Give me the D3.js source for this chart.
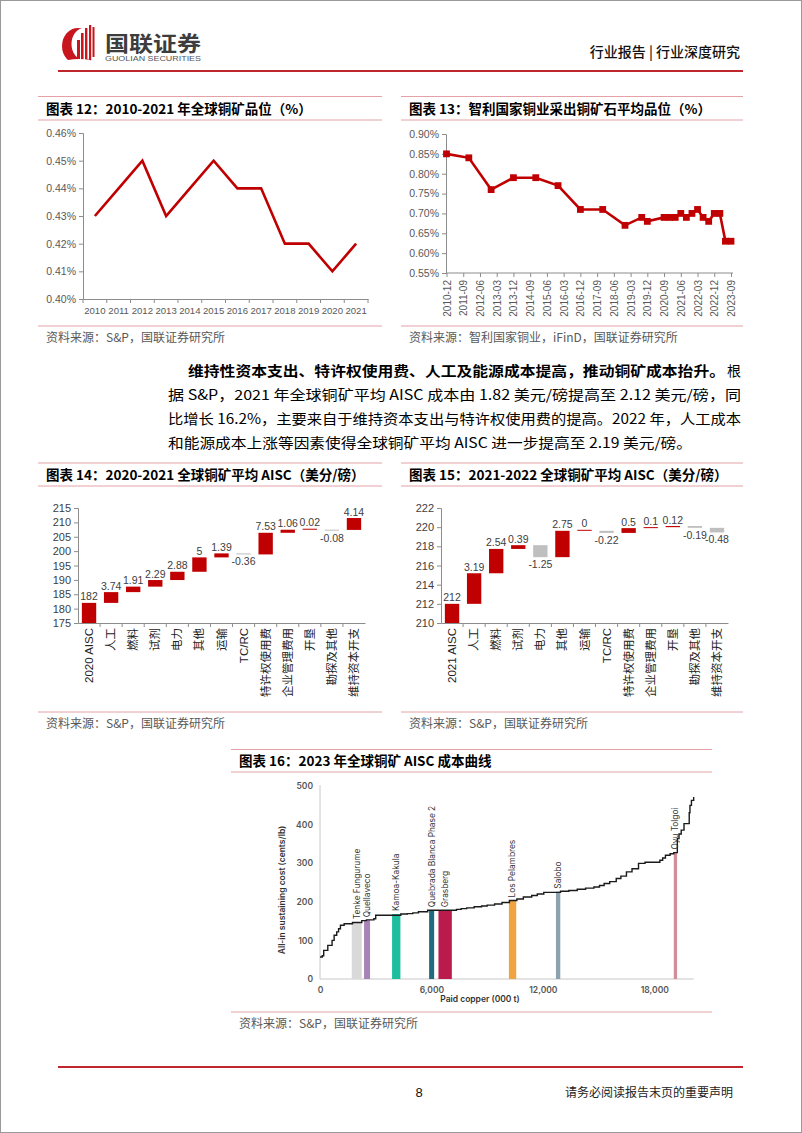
<!DOCTYPE html>
<html><head><meta charset="utf-8">
<script src="https://cdn.jsdelivr.net/npm/d3@7"></script>
<style>
body{margin:0;background:#fff;}
svg{display:block;}
</style></head><body>
<svg id="c" width="802" height="1133"></svg>
<script>
// ---------------- DATA ----------------
const years12 = ["2010","2011","2012","2013","2014","2015","2016","2017","2018","2019","2020","2021"];
const grade12 = [0.43,0.44,0.45,0.43,0.44,0.45,0.44,0.44,0.42,0.42,0.41,0.42];
const yTicks12 = [0.40,0.41,0.42,0.43,0.44,0.45,0.46];

const dates13 = ["2010-12","2011-12","2012-12","2013-12","2014-12","2015-12","2016-12","2017-12","2018-12",
  "2019-09","2019-12","2020-09","2020-12","2021-03","2021-06","2021-09","2021-12","2022-03","2022-06","2022-09",
  "2022-12","2023-03","2023-06","2023-09"];
const grade13 = [0.85,0.84,0.76,0.79,0.79,0.77,0.71,0.71,0.67,
  0.69,0.68,0.69,0.69,0.69,0.70,0.69,0.70,0.71,0.69,0.68,
  0.70,0.70,0.63,0.63];
const xTicks13 = ["2010-12","2011-09","2012-06","2013-03","2013-12","2014-09","2015-06","2016-03","2016-12",
  "2017-09","2018-06","2019-03","2019-12","2020-09","2021-06","2022-03","2022-12","2023-09"];
const yTicks13 = [0.55,0.60,0.65,0.70,0.75,0.80,0.85,0.90];

const cats14 = ["2020 AISC","人工","燃料","试剂","电力","其他","运输","TC/RC","特许权使用费","企业管理费用","开垦","勘探及其他","维持资本开支"];
const vals14 = [182,3.74,1.91,2.29,2.88,5,1.39,-0.36,7.53,1.06,0.02,-0.08,4.14];
const yTicks14 = [175,180,185,190,195,200,205,210,215];

const cats15 = ["2021 AISC","人工","燃料","试剂","电力","其他","运输","TC/RC","特许权使用费","企业管理费用","开垦","勘探及其他","维持资本开支"];
const vals15 = [212,3.19,2.54,0.39,-1.25,2.75,0,-0.22,0.5,0.1,0.12,-0.19,-0.48];
const yTicks15 = [210,212,214,216,218,220,222];

const curveX16 = [0,120,200,420,650,760,900,1000,1100,1300,1750,2250,2500,2900,3000,4350,4700,5000,5300,5800,
  7350,7600,7900,8300,8700,9000,9400,9800,10200,10600,10950,11400,11700,12050,12950,13400,13850,14300,14750,
  15050,15300,15600,15950,16200,16500,16800,17150,17500,18300,18450,18600,18850,19050,19240,19330,19450,19600,
  19880,19920,20000,20120];
const curveY16 = [57,60,74,87,100,113,122,130,139,143,146,151,153,156,165,168,169,171,174,178,
  180,182,184,187,189,191,194,198,203,207,212,216,220,224,227,229,232,235,238,
  242,247,252,260,266,277,285,299,302,307,313,320,324,327,363,375,385,402,
  430,449,462,471];
const mines16 = ["Tenke Fungurume","Quellaveco","Kamoa-Kakula","Quebrada Blanca Phase 2","Grasberg","Los Pelambres","Salobo","Oyu Tolgoi"];
const mineStart16 = [1709,2372,3881,5876,6378,10172,12705,19049];
const mineEnd16 = [2248,2695,4329,6146,7097,10566,12938,19228];
const mineCost16 = [147,152,168,178,178,203,226,327];
const xTicks16 = [0,6000,12000,18000];
const yTicks16 = [0,100,200,300,400,500];

// ---------------- STYLE ----------------
const RED = "#C00000", GREY = "#BFBFBF", PINK = "#E4A2A8", AXIS = "#8C8C8C", TTXT = "#595959";
const CJK = '"Noto Sans CJK SC","Noto Sans",sans-serif';
const LAT = '"Liberation Sans",Arial,sans-serif';
const INTER = 'Inter,"Liberation Sans",sans-serif';
const mineColors = ["#D9D9D9","#A883B8","#1DBE9E","#1D6B7C","#BA1B4C","#F0A441","#8DA1AF","#D38E9C"];

const svg = d3.select("#c");
svg.append("rect").attr("x",0.5).attr("y",0.5).attr("width",801).attr("height",1132)
  .attr("fill","#fff").attr("stroke","#9a9a9a");

function hline(x0,x1,y,color,w){
  svg.append("line").attr("x1",x0).attr("x2",x1).attr("y1",y).attr("y2",y)
    .attr("stroke",color||PINK).attr("stroke-width",w||1);
}
function txt(x,y,s,opt){
  opt = opt||{};
  const t = svg.append("text").attr("x",x).attr("y",y).text(s)
    .attr("font-family",opt.ff||CJK).attr("font-size",opt.fs||12)
    .attr("font-weight",opt.fw||400).attr("fill",opt.fill||"#000")
    .attr("text-anchor",opt.anchor||"start");
  if(opt.tl){ t.attr("textLength",opt.tl).attr("lengthAdjust","spacingAndGlyphs"); }
  return t;
}

// ---------------- HEADER ----------------
(function(){
  const g = svg.append("g");
  g.append("ellipse").attr("cx",78).attr("cy",46).attr("rx",16).attr("ry",18).attr("fill","#C8161E");
  g.append("ellipse").attr("cx",84).attr("cy",44).attr("rx",12.5).attr("ry",16).attr("fill","#fff");
  [[77,40,3,22],[81,33,2.6,28],[85,28,2.4,33],[89,25,2.2,36],[92.5,27,2,30]].forEach(b=>{
    g.append("rect").attr("x",b[0]).attr("y",b[1]).attr("width",b[2]).attr("height",b[3]).attr("fill","#C8161E");
  });
  g.append("ellipse").attr("cx",79).attr("cy",62).attr("rx",15).attr("ry",3).attr("fill","#fff");
  txt(105,51,"国联证券",{fs:21,fw:700,fill:"#3d3d3d",tl:96});
  txt(105,61,"GUOLIAN SECURITIES",{ff:LAT,fs:7,fill:"#555",tl:96});
  txt(740,57,"行业报告 | 行业深度研究",{fs:14,fw:500,fill:"#111",anchor:"end"});
  hline(58,743,71,"#C0272D",2);
})();

// ---------------- PANEL FRAMES ----------------
function panel(x0,x1,yTop,yUnder,yBottom,title,source){
  hline(x0,x1,yTop); hline(x0,x1,yUnder); hline(x0,x1,yBottom);
  txt(x0+8,yUnder-6,title,{fs:13.5,fw:700,fill:"#000"});
  txt(x0+8,yBottom+16,source,{fs:12,fill:TTXT});
}
panel(38,382,96.5,120,326,"图表 12：2010-2021 年全球铜矿品位（%）","资料来源：S&P，国联证券研究所");
panel(401,743,96.5,120,326,"图表 13：智利国家铜业采出铜矿石平均品位（%）","资料来源：智利国家铜业，iFinD，国联证券研究所");
panel(38,382,463,486,712,"图表 14：2020-2021 全球铜矿平均 AISC（美分/磅）","资料来源：S&P，国联证券研究所");
panel(401,743,463,486,712,"图表 15：2021-2022 全球铜矿平均 AISC（美分/磅）","资料来源：S&P，国联证券研究所");
panel(231,712,749.5,772,1012,"图表 16：2023 年全球铜矿 AISC 成本曲线","资料来源：S&P，国联证券研究所");

function styleAxis(g, color){
  g.select(".domain").attr("stroke",color||AXIS);
  g.selectAll(".tick line").attr("stroke",color||AXIS);
  g.selectAll(".tick text").attr("fill",TTXT).attr("font-family",LAT);
}

// ---------------- CHART 12 ----------------
(function(){
  const x = d3.scaleBand().domain(years12).range([83,368]).padding(0);
  const y = d3.scaleLinear().domain([0.40,0.46]).range([299,133]);
  const gy = svg.append("g").attr("transform","translate(83,0)")
    .call(d3.axisLeft(y).tickValues(yTicks12).tickFormat(d=>d.toFixed(2)+"%").tickSize(4).tickPadding(3));
  styleAxis(gy); gy.selectAll(".tick text").attr("font-size",10.5);
  const gx = svg.append("g").attr("transform","translate(0,299)")
    .call(d3.axisBottom(x).tickSize(0).tickPadding(8));
  styleAxis(gx); gx.selectAll(".tick text").attr("font-size",9.6);
  years12.concat(["end"]).forEach((c,i)=>{
    const xx = i<years12.length ? x(c) : x.range()[1];
    svg.append("line").attr("x1",xx).attr("x2",xx).attr("y1",299).attr("y2",303).attr("stroke",AXIS);
  });
  const line = d3.line().x((d,i)=>x(years12[i])+x.bandwidth()/2).y(d=>y(d));
  svg.append("path").datum(grade12).attr("d",line).attr("fill","none")
    .attr("stroke",RED).attr("stroke-width",2.6).attr("stroke-linejoin","miter");
})();

// ---------------- CHART 13 ----------------
(function(){
  const q = s => { const p = s.split("-").map(Number); return (p[0]-2010)*4 + (p[1]-12)/3; };
  const x = d3.scaleLinear().domain([0,51]).range([446.5,731]);
  const y = d3.scaleLinear().domain([0.55,0.90]).range([273,134]);
  const gy = svg.append("g").attr("transform","translate(446,0)")
    .call(d3.axisLeft(y).tickValues(yTicks13).tickFormat(d=>d.toFixed(2)+"%").tickSize(4).tickPadding(3));
  styleAxis(gy); gy.selectAll(".tick text").attr("font-size",10.5);
  svg.append("line").attr("x1",446).attr("x2",733).attr("y1",273).attr("y2",273).attr("stroke",AXIS);
  const gx = svg.append("g").attr("transform","translate(0,273)")
    .call(d3.axisBottom(x).tickValues(xTicks13.map(q)).tickFormat((d,i)=>xTicks13[i]).tickSize(4).tickPadding(3));
  styleAxis(gx); gx.select(".domain").remove();
  gx.selectAll(".tick text").attr("font-size",10).attr("text-anchor","end")
    .attr("transform","rotate(-90)").attr("x",-7).attr("y",0).attr("dy","0.35em");
  const line = d3.line().x((d,i)=>x(q(dates13[i]))).y(d=>y(d));
  svg.append("path").datum(grade13).attr("d",line).attr("fill","none")
    .attr("stroke",RED).attr("stroke-width",2.6);
  svg.append("g").selectAll("rect").data(grade13).join("rect")
    .attr("x",(d,i)=>x(q(dates13[i]))-3.4).attr("y",d=>y(d)-3.4)
    .attr("width",6.8).attr("height",6.8).attr("fill",RED);
})();

// ---------------- WATERFALLS ----------------
function waterfall(cats, vals, ticks, x0, x1, ymin, ymax){
  const x = d3.scaleBand().domain(cats).range([x0,x1]).paddingInner(0.35).paddingOuter(0.175);
  const y = d3.scaleLinear().domain([ymin,ymax]).range([623,508]);
  const gy = svg.append("g").attr("transform",`translate(${x0},0)`)
    .call(d3.axisLeft(y).tickValues(ticks).tickSize(4).tickPadding(3));
  styleAxis(gy); gy.selectAll(".tick text").attr("font-size",11).attr("fill","#404040");
  const gx = svg.append("g").attr("transform","translate(0,623)")
    .call(d3.axisBottom(x).tickSize(0).tickPadding(5));
  styleAxis(gx);
  gx.selectAll(".tick text").attr("font-family",(d,i)=> i===0||d==="TC/RC" ? LAT : CJK)
    .attr("font-size",11.5).attr("fill","#222").attr("text-anchor","end")
    .attr("transform","rotate(-90)").attr("x",-5).attr("y",0).attr("dy","0.35em");
  const step = x.step();
  cats.forEach((c,i)=>{
    const xx = x(c) - step*x.paddingInner()/2;
    if(i>0) svg.append("line").attr("x1",xx).attr("x2",xx).attr("y1",623).attr("y2",627).attr("stroke",AXIS);
  });
  let cum = 0;
  const bars = vals.map((v,i)=>{
    let a,b;
    if(i===0){ a = ymin; b = v; cum = v; }
    else { a = cum; b = cum + v; cum = b; }
    return {c:cats[i], v, lo:Math.min(a,b), hi:Math.max(a,b), neg: v<0, first:i===0};
  });
  const g = svg.append("g");
  bars.forEach(d=>{
    const yt = y(d.hi), yb = y(d.lo);
    const h = Math.max(1, yb-yt);
    g.append("rect").attr("x",x(d.c)).attr("y",d.neg? yt : yb-h).attr("width",x.bandwidth()).attr("height",h)
      .attr("fill", d.neg ? GREY : RED);
    const cx = x(d.c)+x.bandwidth()/2;
    const lab = String(d.v);
    if(d.neg){
      txt(cx, Math.max(yb, yt+h)+11, lab, {ff:LAT,fs:10.5,fill:"#404040",anchor:"middle"});
    } else {
      txt(cx, Math.min(yt, yb-h)-2.5, lab, {ff:LAT,fs:10.5,fill:"#404040",anchor:"middle"});
    }
  });
}
waterfall(cats14, vals14, yTicks14, 78, 365, 175, 215);
waterfall(cats15, vals15, yTicks15, 441, 728, 210, 222);

// ---------------- CHART 16 ----------------
(function(){
  const x = d3.scaleLinear().domain([0,18000]).range([320,654.3]);
  const y = d3.scaleLinear().domain([0,500]).range([979,785.7]);
  const AX = "#C8C8C8";
  svg.append("line").attr("x1",320).attr("x2",320).attr("y1",785).attr("y2",979).attr("stroke",AX);
  svg.append("line").attr("x1",320).attr("x2",x(20120)).attr("y1",979).attr("y2",979).attr("stroke",AX);
  const gy = svg.append("g").attr("transform","translate(320,0)")
    .call(d3.axisLeft(y).tickValues(yTicks16).tickSize(0).tickPadding(7));
  gy.select(".domain").remove();
  gy.selectAll(".tick text").attr("font-family",INTER).attr("font-size",8.5).attr("font-weight",600).attr("fill","#555");
  const gx = svg.append("g").attr("transform","translate(0,979)")
    .call(d3.axisBottom(x).tickValues(xTicks16).tickFormat(d3.format(",")).tickSize(0).tickPadding(8));
  gx.select(".domain").remove();
  gx.selectAll(".tick text").attr("font-family",INTER).attr("font-size",8.5).attr("font-weight",600).attr("fill","#555");
  txt(480,1002,"Paid copper (000 t)",{ff:INTER,fs:8.5,fw:600,fill:"#333",anchor:"middle"});
  svg.append("text").attr("transform","translate(285,890) rotate(-90)").attr("text-anchor","middle")
    .attr("font-family",INTER).attr("font-size",8.5).attr("font-weight",600).attr("fill","#333")
    .text("All-in sustaining cost (cents/lb)");
  mines16.forEach((m,i)=>{
    svg.append("rect").attr("x",x(mineStart16[i])).attr("y",y(mineCost16[i]))
      .attr("width",x(mineEnd16[i])-x(mineStart16[i])).attr("height",y(0)-y(mineCost16[i]))
      .attr("fill",mineColors[i]);
  });
  const pts = curveX16.map((v,i)=>[v,curveY16[i]]);
  svg.append("path").datum(pts)
    .attr("d",d3.line().x(d=>x(d[0])).y(d=>y(d[1])).curve(d3.curveStepAfter))
    .attr("fill","none").attr("stroke","#1a1a1a").attr("stroke-width",1.4);
  mines16.forEach((m,i)=>{
    const cx = (x(mineStart16[i])+x(mineEnd16[i]))/2;
    svg.append("text").attr("transform",`translate(${cx},${y(mineCost16[i])-3}) rotate(-90)`)
      .attr("dy","0.35em").attr("font-family",INTER).attr("font-size",8.3).attr("fill","#333").text(m);
  });
})();

// ---------------- BODY TEXT ----------------
txt(188,376,"维持性资本支出、特许权使用费、人工及能源成本提高，推动铜矿成本抬升。",{fs:14,fw:700,fill:"#000",tl:537});
txt(741,376,"根",{fs:14,fill:"#000",anchor:"end"});
txt(168,400,"据 S&P，2021 年全球铜矿平均 AISC 成本由 1.82 美元/磅提高至 2.12 美元/磅，同",{fs:14,fill:"#000",tl:573});
txt(168,424,"比增长 16.2%，主要来自于维持资本支出与特许权使用费的提高。2022 年，人工成本",{fs:14,fill:"#000",tl:573});
txt(168,448,"和能源成本上涨等因素使得全球铜矿平均 AISC 进一步提高至 2.19 美元/磅。",{fs:14,fill:"#000",tl:524});

// ---------------- FOOTER ----------------
hline(58,743,1067,"#C0272D",2);
txt(419,1097,"8",{ff:LAT,fs:13,fill:"#111",anchor:"middle"});
txt(733,1097,"请务必阅读报告末页的重要声明",{fs:12,fill:"#222",anchor:"end"});
</script>
</body></html>
